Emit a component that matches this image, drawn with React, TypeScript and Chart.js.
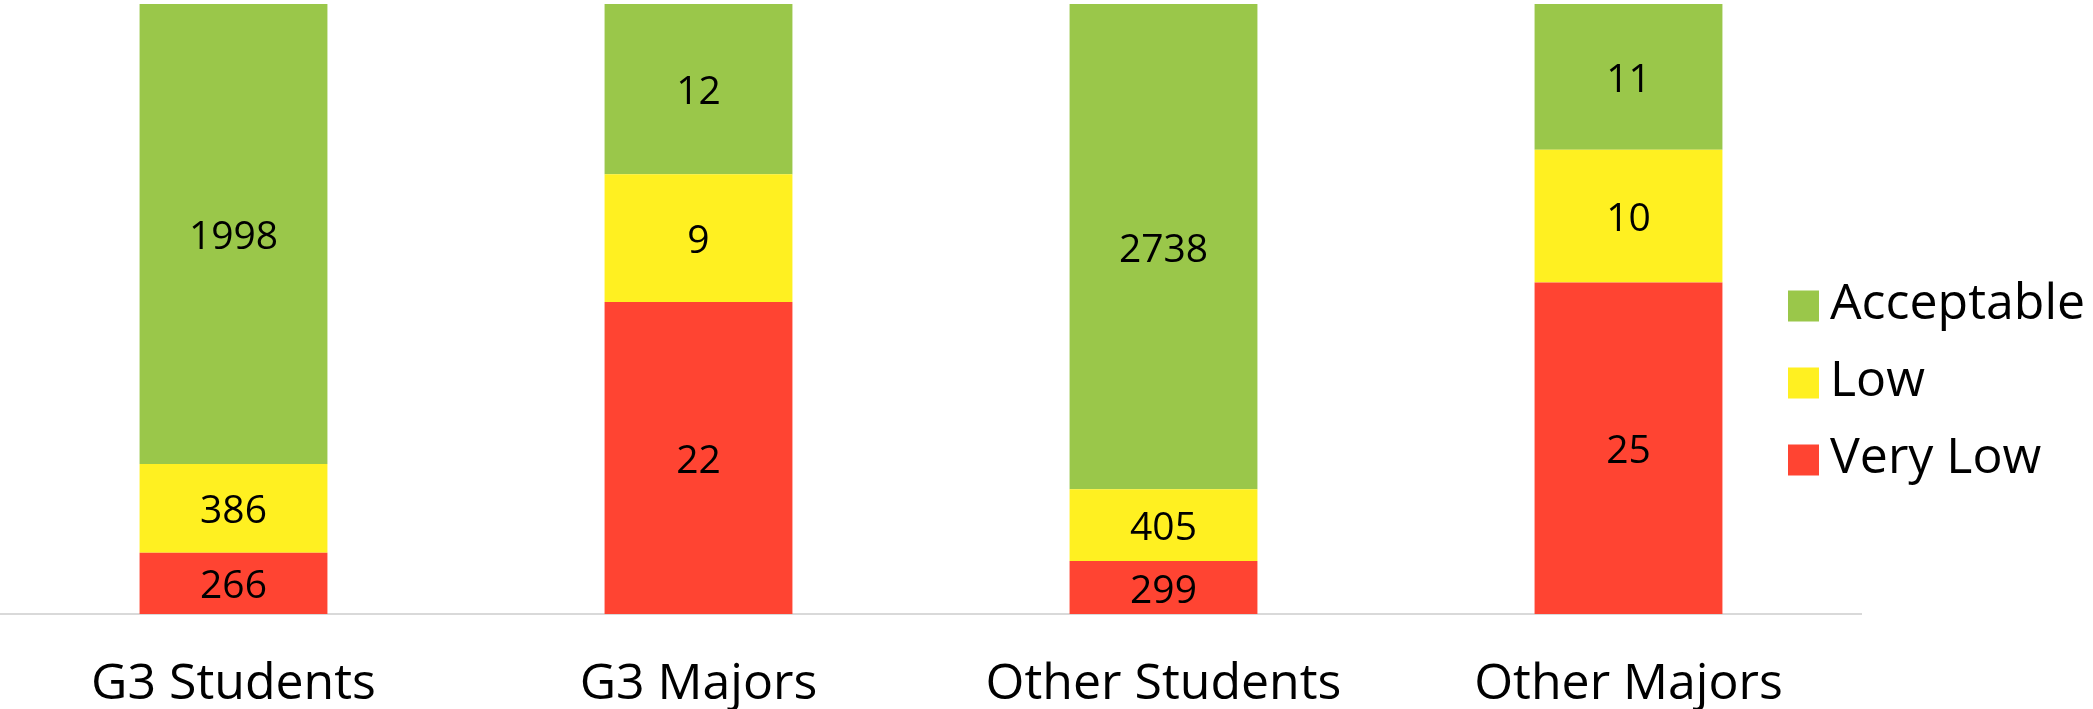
import React, { useEffect, useRef } from "react";
import { Chart, registerables } from "chart.js";

Chart.register(...registerables);

const categories = ["G3 Students", "G3 Majors", "Other Students", "Other Majors"];
const veryLow = [266, 22, 299, 25];
const low = [386, 9, 405, 10];
const acceptable = [1998, 12, 2738, 11];

const seriesNames = ["Very Low", "Low", "Acceptable"];
const seriesColors = ["#FF4432", "#FFF021", "#9AC74A"];

const FONT = "'Open Sans', 'DejaVu Sans', sans-serif";

const totals = categories.map((_, i) => veryLow[i] + low[i] + acceptable[i]);
const toShare = (arr: number[]) => arr.map((v, i) => (v / totals[i]) * 100);
const rawSeries = [veryLow, low, acceptable];

// Count labels centred in each stacked segment
const segmentLabels = {
  id: "segmentLabels",
  afterDatasetsDraw(chart: any) {
    const ctx = chart.ctx;
    ctx.save();
    ctx.font = `39px ${FONT}`;
    ctx.fillStyle = "#000";
    ctx.textAlign = "center";
    ctx.textBaseline = "middle";
    chart.data.datasets.forEach((ds: any, di: number) => {
      const meta = chart.getDatasetMeta(di);
      meta.data.forEach((bar: any, i: number) => {
        const raw = rawSeries[di][i];
        const y = (bar.y + bar.base) / 2 + 4;
        ctx.fillText(String(raw), bar.x, y);
      });
    });
    ctx.restore();
  },
};

// Legend on the right, listed top-down in reverse stacking order
const sideLegend = {
  id: "sideLegend",
  afterDraw(chart: any) {
    const ctx = chart.ctx;
    ctx.save();
    ctx.font = `50px ${FONT}`;
    ctx.textAlign = "left";
    ctx.textBaseline = "middle";
    const x0 = 1788;
    const size = 31;
    const startY = 306;
    const step = 77;
    const order = [2, 1, 0];
    order.forEach((di, row) => {
      const ds = chart.data.datasets[di];
      const cy = startY + row * step;
      ctx.fillStyle = ds.backgroundColor;
      ctx.fillRect(x0, cy - size / 2, size, size);
      ctx.fillStyle = "#000";
      ctx.fillText(ds.label, x0 + 42, cy - 1);
    });
    ctx.restore();
  },
};

export default function App() {
  const canvasRef = useRef<HTMLCanvasElement | null>(null);

  useEffect(() => {
    document.body.style.margin = "0";
    const canvas = canvasRef.current;
    if (!canvas) return;
    const chart = new Chart(canvas, {
      type: "bar",
      data: {
        labels: categories,
        datasets: rawSeries.map((arr, i) => ({
          label: seriesNames[i],
          data: toShare(arr),
          backgroundColor: seriesColors[i],
          borderWidth: 0,
          barPercentage: 0.404,
          categoryPercentage: 1,
        })),
      },
      options: {
        animation: false,
        responsive: false,
        maintainAspectRatio: false,
        layout: { padding: { left: 1, right: 232, top: 4, bottom: 0 } },
        plugins: {
          legend: { display: false },
          tooltip: { enabled: false },
        },
        scales: {
          x: {
            stacked: true,
            grid: { display: false, drawTicks: false },
            border: { display: true, color: "#D9D9D9", width: 2 },
            ticks: {
              color: "#000",
              font: { family: FONT, size: 50 },
              padding: 41,
              maxRotation: 0,
            },
            afterFit(scale: any) {
              scale.height = 95;
            },
          },
          y: {
            stacked: true,
            display: false,
            min: 0,
            max: 100,
          },
        },
      },
      plugins: [segmentLabels, sideLegend],
    });
    return () => chart.destroy();
  }, []);

  return (
    <div style={{ width: 2093, height: 709, background: "#fff" }}>
      <canvas ref={canvasRef} width={2093} height={709} style={{ display: "block" }} />
    </div>
  );
}
